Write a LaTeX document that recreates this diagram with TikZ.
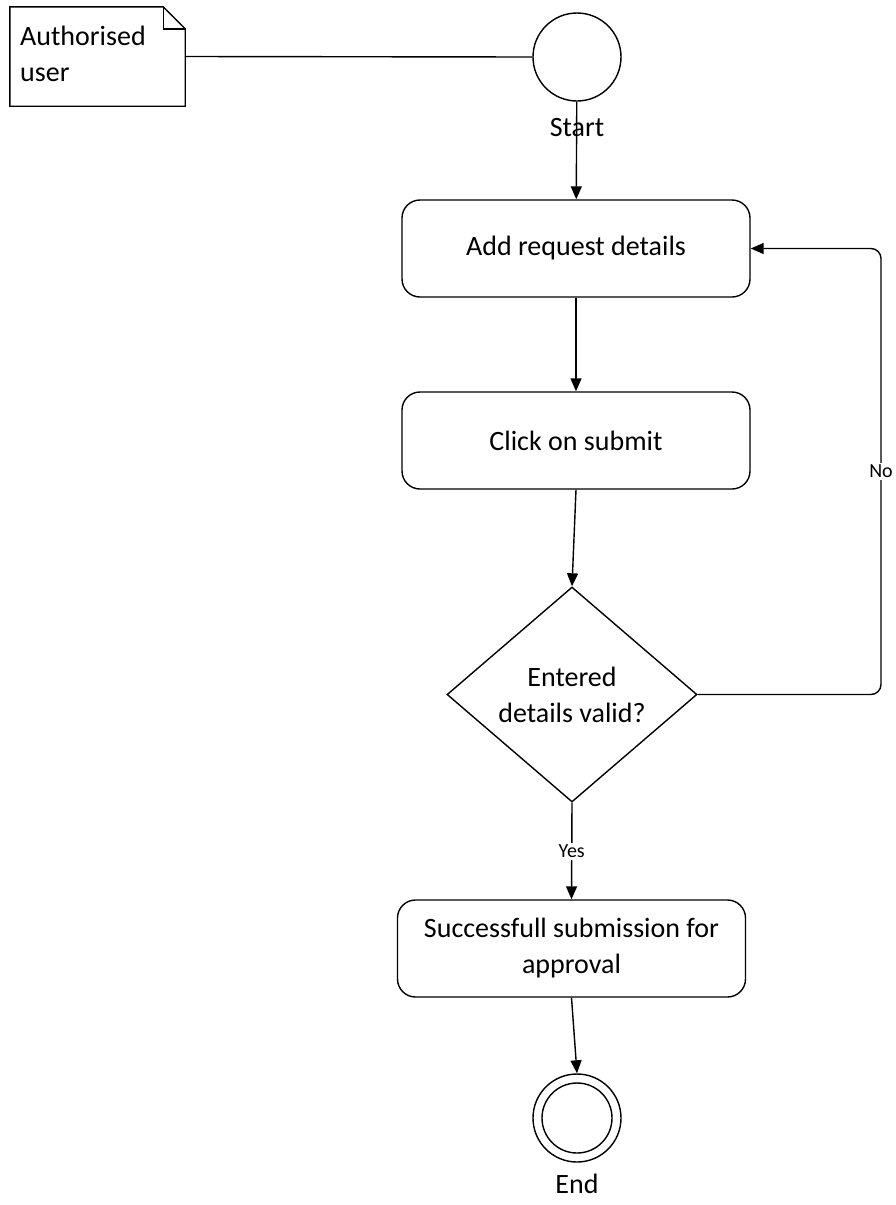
\documentclass[tikz,border=0pt]{standalone}
\usepackage{fontspec}
\setmainfont{Carlito}
\usetikzlibrary{arrows.meta,shapes.geometric,positioning}
\tikzset{
	every node/.style={font=\fontsize{28}{36}\selectfont},
	stepbox/.style={draw, line width=1.4pt, rounded corners=18pt, minimum width=348pt, minimum height=97pt, align=center, inner sep=0pt},
	decision/.style={draw, line width=1.4pt, diamond, minimum width=250pt, minimum height=215pt, align=center, inner sep=0pt},
	flow/.style={line width=1.4pt, -{Triangle[length=13pt,width=11pt]}},
	lbl/.style={fill=white, inner sep=2pt, font=\fontsize{20}{24}\selectfont}
}

\begin{document}
\begin{tikzpicture}[x=1pt, y=-1pt]
			%%%%% START %%%%%
			\useasboundingbox (0, 0) rectangle (895, 1205);
			
			% note and start
			\node[minimum width=175pt, minimum height=99pt, inner sep=0pt] (user) at (97.5, 56.5) {};
			\draw[line width=1.4pt] (user.north west) -- ([xshift=-22pt]user.north east) -- ([yshift=-22pt]user.north east) -- (user.south east) -- (user.south west) -- cycle;
			\draw[line width=1.4pt] ([xshift=-22pt]user.north east) |- ([yshift=-22pt]user.north east);
			\node[anchor=north west, align=left, inner sep=0pt] (usertxt) at (20, 26) {Authorised\\user};
			
			\node[draw, circle, line width=1.4pt, minimum size=88pt, inner sep=0pt] (start) at (577, 57) {};
			\node (starttxt) at (577, 128) {Start};
			\draw[line width=1.4pt] (user.east) -- (start.west);
			
			% steps
			\node[stepbox] (add) at (576, 248.5) {Add request details};
			\node[stepbox] (submit) at (576, 440.5) {Click on submit};
			\node[decision] (valid) at (572, 694.5) {Entered\\details valid?};
			\node[stepbox] (done) at (571.5, 948.5) {Successfull submission for\\approval};
			
			% end
			\node[draw, circle, line width=1.4pt, minimum size=88pt, inner sep=0pt] (end) at (577, 1118) {};
			\node[draw, circle, line width=1.4pt, minimum size=70pt, inner sep=0pt] (endin) at (end) {};
			\node (endtxt) at (577, 1184) {End};
			
			% flow
			\coordinate (loop) at (881, 694.5);
			\draw[flow] (start) -- (add);
			\draw[flow] (add) -- (submit);
			\draw[flow] (submit.south) -- (valid.north);
			\draw[flow, rounded corners=10pt] (valid.east) -- (loop) |- node[lbl, pos=0.25] {No} (add.east);
			\draw[flow] (valid.south) -- node[lbl] {Yes} (done.north);
			\draw[flow] (done.south) -- (end.north);
			%%%%% END %%%%%
\end{tikzpicture}
\end{document}
